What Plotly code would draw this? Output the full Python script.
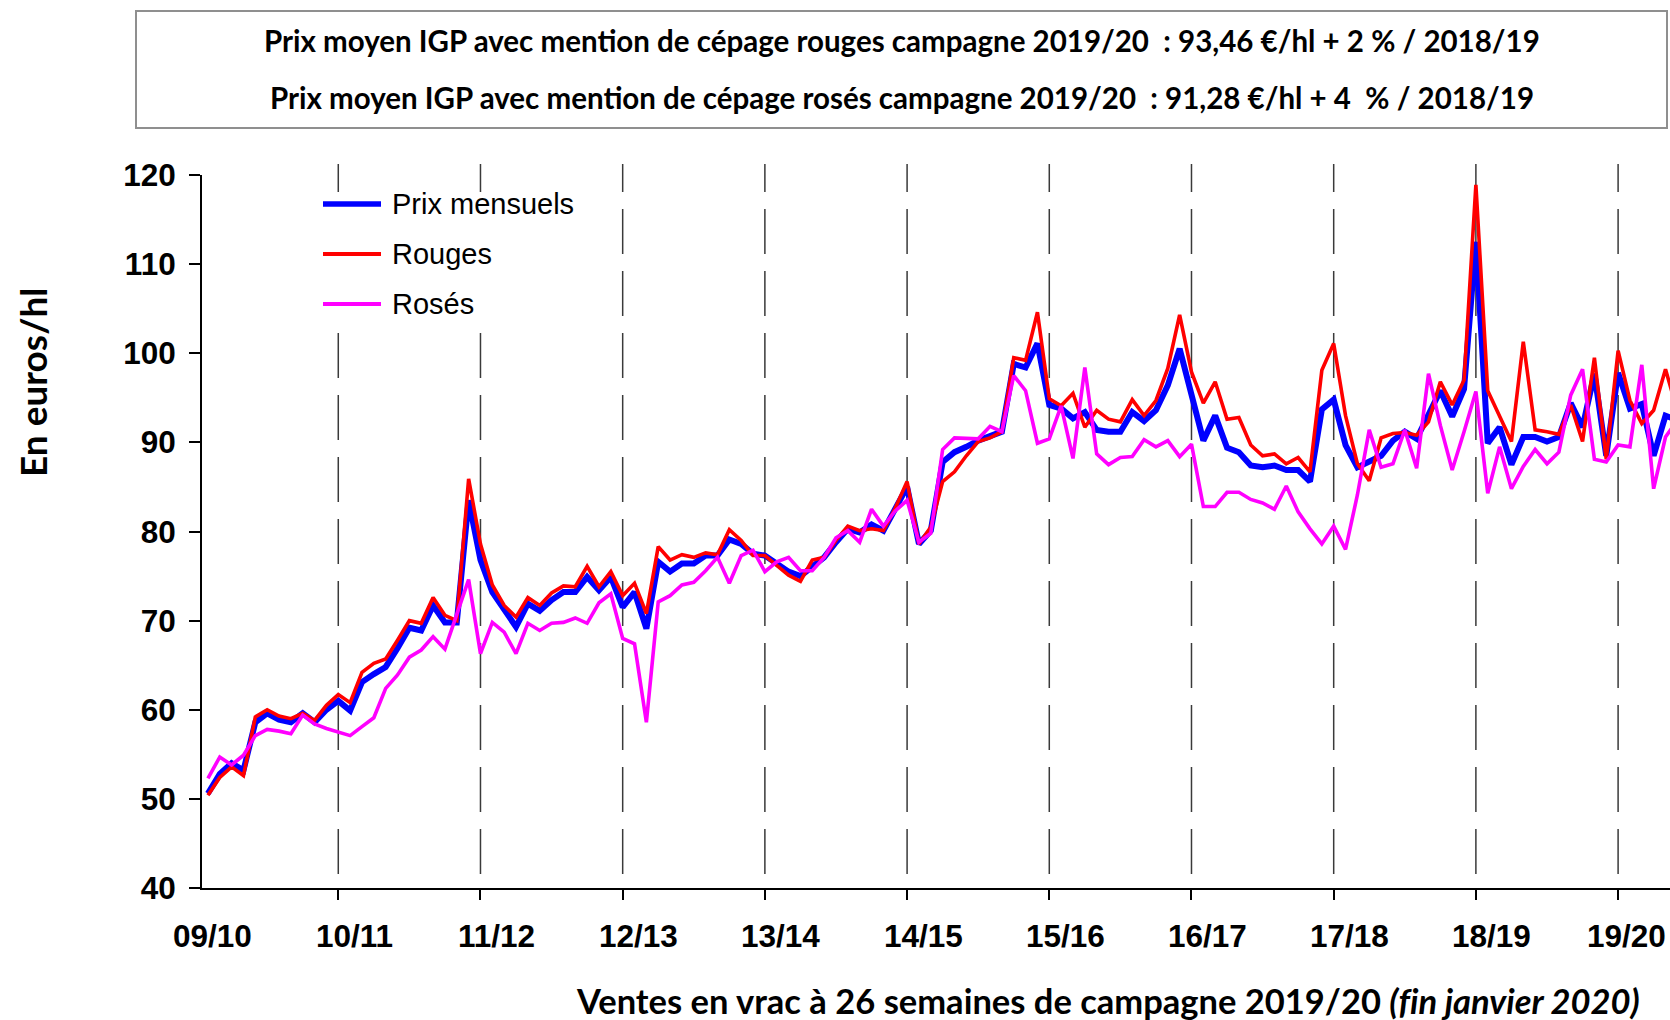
import plotly.graph_objects as go

# month index from September 2009 (0) to January 2020 (124)
months = list(range(125))

prix_mensuels = [
    50.6, 52.8, 54.0, 53.2, 58.6, 59.6, 58.9, 58.6, 59.6, 58.6, 60.0, 61.0,
    59.9, 63.1, 64.0, 64.8, 66.9, 69.2, 68.9, 71.7, 69.8, 69.8, 83.5, 76.8,
    73.2, 71.2, 69.3, 71.9, 71.1, 72.3, 73.2, 73.2, 74.9, 73.4, 74.9, 71.5,
    73.2, 69.1, 76.6, 75.5, 76.4, 76.4, 77.3, 77.3, 79.1, 78.6, 77.5, 77.3,
    76.4, 75.5, 75.0, 76.0, 77.1, 78.8, 80.3, 79.9, 80.8, 80.1, 82.7, 85.0,
    78.6, 80.1, 87.8, 88.9, 89.5, 90.2, 90.7, 91.2, 98.8, 98.4, 101.1, 94.2,
    93.8, 92.7, 93.4, 91.4, 91.2, 91.2, 93.4, 92.4, 93.6, 96.4, 100.5, 95.3,
    90.2, 93.0, 89.4, 88.9, 87.4, 87.2, 87.4, 86.9, 86.9, 85.6, 93.7, 94.8,
    89.7, 87.2, 87.8, 88.5, 90.2, 91.2, 90.4, 93.2, 95.8, 92.9, 96.0, 112.5,
    89.9, 91.7, 87.5, 90.6, 90.6, 90.1, 90.6, 94.4, 91.7, 97.7, 88.5, 97.8,
    93.8, 94.3, 88.5, 93.0, 92.5,
]

rouges = [
    50.4, 52.4, 53.6, 52.6, 59.2, 60.0, 59.3, 59.0, 59.6, 58.8, 60.5, 61.7,
    60.8, 64.2, 65.2, 65.7, 67.8, 70.0, 69.7, 72.6, 70.6, 70.0, 85.9, 78.6,
    74.0, 71.7, 70.4, 72.6, 71.7, 73.1, 73.9, 73.8, 76.1, 73.8, 75.5, 72.8,
    74.2, 70.8, 78.3, 76.8, 77.4, 77.1, 77.6, 77.4, 80.2, 79.0, 77.3, 77.3,
    76.2, 75.1, 74.4, 76.8, 77.1, 79.0, 80.6, 80.1, 80.3, 80.1, 82.6, 85.6,
    78.6, 80.5, 85.6, 86.7, 88.5, 90.1, 90.5, 91.2, 99.5, 99.2, 104.6, 94.9,
    94.1, 95.5, 91.7, 93.6, 92.6, 92.3, 94.8, 93.0, 94.7, 98.3, 104.3, 97.9,
    94.4, 96.8, 92.6, 92.8, 89.7, 88.5, 88.7, 87.6, 88.3, 86.7, 98.1, 101.1,
    93.0, 87.6, 85.7, 90.5, 91.0, 91.1, 90.8, 92.3, 96.8, 94.2, 97.0, 118.9,
    95.8, 93.0, 90.1, 101.3, 91.4, 91.2, 90.9, 94.2, 90.1, 99.5, 88.1, 100.3,
    94.7, 92.1, 93.6, 98.2, 93.5,
]

roses = [
    52.3, 54.7, 53.8, 54.9, 57.1, 57.8, 57.6, 57.3, 59.4, 58.4, 57.9, 57.5,
    57.1, 58.1, 59.1, 62.4, 63.9, 65.9, 66.7, 68.2, 66.8, 70.7, 74.6, 66.3,
    69.8, 68.7, 66.3, 69.7, 68.9, 69.7, 69.8, 70.3, 69.7, 72.0, 73.0, 68.0,
    67.4, 58.6, 72.1, 72.8, 74.0, 74.3, 75.6, 77.1, 74.2, 77.3, 77.9, 75.5,
    76.6, 77.1, 75.6, 75.6, 77.1, 79.3, 80.1, 78.8, 82.5, 80.6, 82.3, 83.5,
    78.8, 79.8, 89.2, 90.5, 90.5, 90.4, 91.8, 91.2, 97.5, 95.8, 89.9, 90.4,
    94.1, 88.2, 98.4, 88.7, 87.5, 88.3, 88.4, 90.3, 89.5, 90.2, 88.4, 89.8,
    82.8, 82.8, 84.4, 84.4, 83.6, 83.2, 82.5, 85.1, 82.2, 80.3, 78.6, 80.6,
    78.0, 84.1, 91.4, 87.2, 87.6, 91.4, 87.1, 97.7, 91.9, 86.9, 91.2, 95.7,
    84.3, 89.5, 84.8, 87.3, 89.2, 87.6, 88.9, 95.3, 98.2, 88.1, 87.8, 89.7,
    89.5, 98.7, 84.8, 90.6, 92.5,
]

campaign_labels = ["09/10", "10/11", "11/12", "12/13", "13/14", "14/15",
                   "15/16", "16/17", "17/18", "18/19", "19/20"]
campaign_label_pos = [0.35, 12.35, 24.35, 36.35, 48.35, 60.35,
                      72.35, 84.35, 96.35, 108.35, 119.7]
campaign_starts = [11, 23, 35, 47, 59, 71, 83, 95, 107, 119]   # August of each campaign

series_names = ["Prix mensuels", "Rouges", "Rosés"]
series_colors = ["#0000FF", "#FF0000", "#FF00FF"]
series_widths = [6, 3.6, 3.6]

header_lines = [
    "Prix moyen IGP avec mention de cépage rouges campagne 2019/20  : 93,46 €/hl + 2 % / 2018/19",
    "Prix moyen IGP avec mention de cépage rosés campagne 2019/20  : 91,28 €/hl + 4  % / 2018/19",
]

W, H = 1670, 1020
ML, MR, MT, MB = 202, 0, 175, 132
PW, PH = W - ML - MR, H - MT - MB

def px_x(p):
    return (p - ML) / PW

def px_y(p):
    return (H - MB - p) / PH

fig = go.Figure()
for name, vals, col, wd in zip(series_names, [prix_mensuels, rouges, roses],
                               series_colors, series_widths):
    fig.add_trace(go.Scatter(x=months, y=vals, mode="lines", name=name,
                             line=dict(color=col, width=wd), showlegend=False))

shapes = []
# dashed campaign separators
for s in campaign_starts:
    shapes.append(dict(type="line", xref="x", yref="paper", x0=s, x1=s,
                       y0=px_y(874), y1=px_y(164), layer="below",
                       line=dict(color="#3a3a3a", width=1.5, dash="45px,17px")))
# white legend background
shapes.append(dict(type="rect", xref="paper", yref="paper",
                   x0=px_x(316), x1=px_x(560), y0=px_y(330), y1=px_y(197),
                   fillcolor="white", line=dict(width=0), layer="below"))
# header box
shapes.append(dict(type="rect", xref="paper", yref="paper",
                   x0=px_x(136), x1=px_x(1667), y0=px_y(128), y1=px_y(11),
                   fillcolor="rgba(0,0,0,0)", line=dict(color="#8f8f8f", width=2),
                   layer="above"))

annotations = []
legend_rows = [204, 254, 304]
for name, col, wd, yy in zip(series_names, series_colors, [5.5, 3.8, 3.8], legend_rows):
    shapes.append(dict(type="line", xref="paper", yref="paper",
                       x0=px_x(323), x1=px_x(381), y0=px_y(yy), y1=px_y(yy),
                       line=dict(color=col, width=wd), layer="above"))
    annotations.append(dict(xref="paper", yref="paper", x=px_x(390), y=px_y(yy),
                            text=name, showarrow=False, xanchor="left", yanchor="middle",
                            font=dict(family="Liberation Sans, Arial", size=29, color="black")))

for line, yy in zip(header_lines, [40, 97]):
    annotations.append(dict(xref="paper", yref="paper", x=px_x(902), y=px_y(yy),
                            text="<b>" + line + "</b>", showarrow=False,
                            xanchor="center", yanchor="middle",
                            font=dict(family="Lato", size=29.5, color="black")))

annotations.append(dict(xref="paper", yref="paper", x=px_x(1108), y=px_y(1000),
                        text="<b>Ventes en vrac à 26 semaines de campagne 2019/20 <i>(f\u200cin janvier 2020)</i></b>",
                        showarrow=False, xanchor="center", yanchor="middle",
                        font=dict(family="Lato", size=34.5, color="black")))
annotations.append(dict(xref="paper", yref="paper", x=px_x(32), y=px_y(383),
                        text="<b>En euros/hl</b>", textangle=-90, showarrow=False,
                        xanchor="center", yanchor="middle",
                        font=dict(family="Lato", size=37, color="black")))

tick_font = dict(family="Liberation Sans, Arial", size=31.5, color="black", weight="bold")

# campaign labels under the x axis, positioned on the x data scale
for lab, pos in zip(campaign_labels, campaign_label_pos):
    annotations.append(dict(xref="x", yref="paper", x=pos, y=0, yshift=-48,
                            text=lab, showarrow=False, xanchor="center", yanchor="middle",
                            font=tick_font))

fig.update_layout(
    width=W, height=H, autosize=False,
    margin=dict(l=ML, r=MR, t=MT, b=MB, pad=0),
    paper_bgcolor="white", plot_bgcolor="rgba(0,0,0,0)",
    shapes=shapes, annotations=annotations, showlegend=False,
    xaxis=dict(range=[-0.5, 123.38], showgrid=False, zeroline=False,
               showline=True, linecolor="black", linewidth=2,
               tickmode="array", tickvals=campaign_starts, ticks="outside",
               ticklen=10, tickwidth=1.5, tickcolor="black", showticklabels=False),
    yaxis=dict(range=[40, 120], dtick=10, tick0=40, showgrid=False, zeroline=False,
               showline=True, linecolor="black", linewidth=2,
               ticks="outside", ticklen=11, tickwidth=2, tickcolor="black",
               tickfont=tick_font, ticklabelstandoff=7),
)

fig.write_html("out.html", config={"displayModeBar": False},
               post_script="document.body.style.margin='0';document.body.style.overflow='hidden';")
